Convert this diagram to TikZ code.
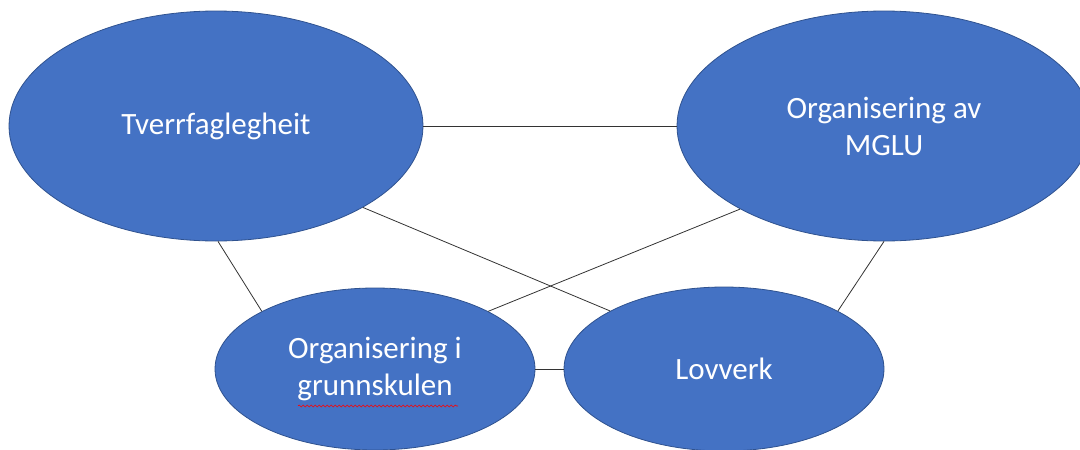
\documentclass[tikz,border=0pt]{standalone}
\usepackage{fontspec}
\setmainfont{Carlito}
\usetikzlibrary{shapes.geometric,decorations.pathmorphing}
\definecolor{ofill}{HTML}{4472C4}
\definecolor{oline}{HTML}{2F528F}
\begin{document}
\begin{tikzpicture}[x=1pt,y=-1pt,
  bub/.style={ellipse, draw=oline, line width=0.8pt, fill=ofill, text=white,
    inner sep=0pt, align=center, font=\fontsize{31}{37}\selectfont},
  link/.style={draw=black!80, line width=0.8pt}]
\useasboundingbox (0,0) rectangle (1080,450);
\clip (0,0) rectangle (1080,450);
\node[bub, minimum width=414pt, minimum height=230pt] (t) at (216,126) {Tverrfaglegheit};
\node[bub, minimum width=414pt, minimum height=230pt] (m) at (884,126) {Organisering av\\MGLU};
\node[bub, minimum width=320pt, minimum height=162pt] (g) at (375,369) {Organisering i\\grunnskulen};
\node[bub, minimum width=320pt, minimum height=164pt] (l) at (724,369) {Lovverk};
\draw[link] (t.east) -- (m.west);
\draw[link] (g.east) -- (l.west);
\draw[link] (t.-89) -- (g.153);
\draw[link] (t.-29) -- (l.153);
\draw[link] (m.-150) -- (g.27);
\draw[link] (m.-90) -- (l.27);
\draw[red, line width=0.6pt, decorate, decoration={snake, amplitude=1pt, segment length=4pt}] (298,406) -- (458,406);
\end{tikzpicture}
\end{document}
